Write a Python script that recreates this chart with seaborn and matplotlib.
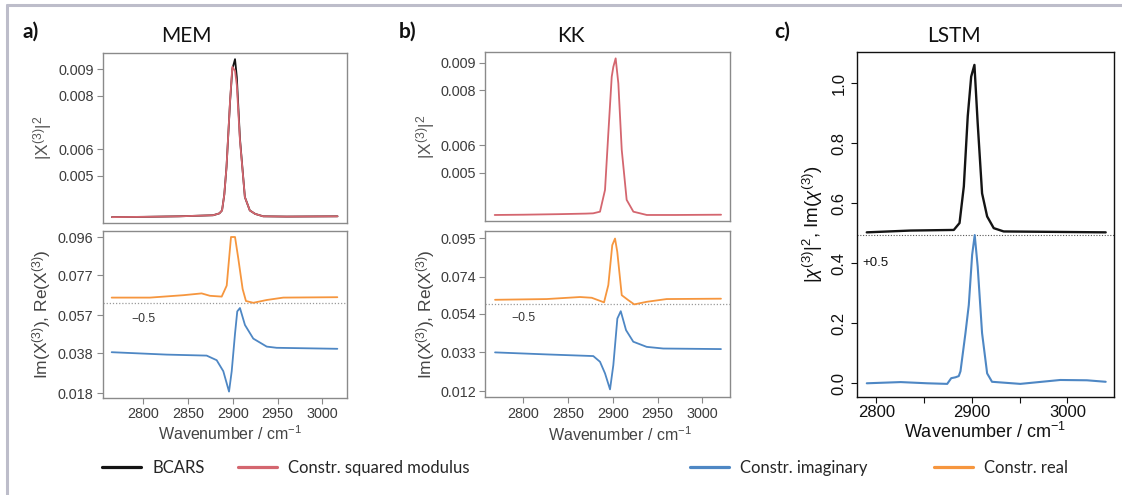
import numpy as np
import pandas as pd
import matplotlib
matplotlib.use("Agg")
import matplotlib.pyplot as plt
from matplotlib.lines import Line2D
import seaborn as sns

# ---------------- data ----------------
# a) MEM - squared modulus panel
mem_top_wn = [2765, 2800, 2840, 2878, 2885, 2888, 2890.5, 2893, 2897, 2899.5, 2902.5,
              2904.5, 2908, 2913.5, 2919, 2925, 2934, 2960, 3017]
mem_bcars = [0.00346, 0.00347, 0.00349, 0.00353, 0.00360, 0.00371, 0.00430, 0.00534, 0.00780,
             0.00900, 0.00937, 0.00870, 0.00640, 0.00421, 0.00371, 0.00358, 0.00349, 0.00348, 0.00349]
mem_mod = [0.00346, 0.00347, 0.00349, 0.00353, 0.00360, 0.00371, 0.00430, 0.00534, 0.00784,
           0.00908, 0.00893, 0.00840, 0.00634, 0.00421, 0.00371, 0.00358, 0.00349, 0.00348, 0.00349]

# a) MEM - real / imaginary panel
mem_re_wn = [2764.7, 2807.5, 2844.7, 2865.2, 2874.5, 2887.6, 2893.2, 2898, 2902.5, 2906.1,
             2911, 2914.7, 2922.9, 2937.9, 2956.4, 3016.8]
mem_re = [0.0658, 0.0658, 0.0670, 0.0679, 0.0667, 0.0663, 0.0718, 0.0961, 0.0961, 0.0855,
          0.0701, 0.0641, 0.0632, 0.0646, 0.0658, 0.0660]
mem_im_wn = [2764.7, 2826, 2870.8, 2882, 2889.4, 2895.8, 2898.8, 2902.5, 2905, 2908,
             2913.6, 2922.9, 2937.9, 2949, 3016.8]
mem_im = [0.0385, 0.0373, 0.0368, 0.0345, 0.0290, 0.0188, 0.0290, 0.0478, 0.0589, 0.0606,
          0.0521, 0.0453, 0.0413, 0.0407, 0.0402]
mem_offset_level = 0.0632

# b) KK - squared modulus panel
kk_top_wn = [2768, 2800, 2840, 2870, 2878, 2885.7, 2891.3, 2895, 2898.8, 2900.6, 2903.2,
             2906.2, 2910, 2915.5, 2923, 2938, 2970, 3021]
kk_mod = [0.00346, 0.00347, 0.00349, 0.00351, 0.00352, 0.00358, 0.00437, 0.00643, 0.00849,
          0.00885, 0.00916, 0.00825, 0.00583, 0.00401, 0.00358, 0.00346, 0.00346, 0.00347]

# b) KK - real / imaginary panel
kk_re_wn = [2768.4, 2826.1, 2863.4, 2876.4, 2890.2, 2895, 2899.4, 2902.5, 2905, 2910,
            2917.3, 2924, 2937.9, 2960.2, 3020.9]
kk_re = [0.0616, 0.0620, 0.0631, 0.0627, 0.0602, 0.0696, 0.0913, 0.0949, 0.0877, 0.0641,
         0.0614, 0.0591, 0.0605, 0.0620, 0.0622]
kk_im_wn = [2768.4, 2826, 2878.2, 2885.7, 2891.3, 2896.9, 2900.6, 2905.1, 2908.9, 2914.8,
            2922.9, 2937.9, 2956.4, 3020.9]
kk_im = [0.0330, 0.0319, 0.0310, 0.0279, 0.0216, 0.0129, 0.0261, 0.0514, 0.0554, 0.0451,
         0.0388, 0.0360, 0.0351, 0.0348]
kk_offset_level = 0.0591

# c) LSTM
lstm_mod_wn = [2789.9, 2835.8, 2881, 2887, 2891.5, 2895.6, 2899.2, 2902.6, 2906, 2910.6,
               2915.9, 2922.8, 2933.2, 3040]
lstm_mod = [0.503, 0.509, 0.511, 0.534, 0.656, 0.890, 1.022, 1.061, 0.867, 0.633,
            0.556, 0.517, 0.506, 0.503]
lstm_im_wn = [2789.9, 2825.4, 2853.2, 2874.1, 2878.3, 2882.8, 2886.2, 2888, 2893.2, 2896.7,
              2900.2, 2902.9, 2906, 2910.6, 2915.9, 2921, 2950.6, 2992.4, 3020.3, 3040]
lstm_im = [0.0, 0.004, 0.0, -0.002, 0.017, 0.020, 0.024, 0.040, 0.167, 0.261,
           0.428, 0.494, 0.389, 0.167, 0.033, 0.005, -0.002, 0.011, 0.010, 0.005]
lstm_offset_level = 0.494

mem_top_ticks = [0.005, 0.006, 0.008, 0.009]
mem_bot_ticks = [0.018, 0.038, 0.057, 0.077, 0.096]
kk_top_ticks = [0.005, 0.006, 0.008, 0.009]
kk_bot_ticks = [0.012, 0.033, 0.054, 0.074, 0.095]
ab_xticks = [2800, 2850, 2900, 2950, 3000]
c_yticks = [0.0, 0.2, 0.4, 0.6, 0.8, 1.0]
c_xticks = [2800, 2850, 2900, 2950, 3000]
c_xticklabels = ["2800", "", "2900", "", "3000"]

titles = ["MEM", "KK", "LSTM"]
panel_tags = ["a)", "b)", "c)"]
legend_labels = ["BCARS", "Constr. squared modulus", "Constr. imaginary", "Constr. real"]

# ---------------- style ----------------
sns.set_theme(style="ticks")
plt.rcParams["font.family"] = ["Liberation Sans", "DejaVu Sans"]
plt.rcParams["mathtext.fontset"] = "custom"
plt.rcParams["mathtext.rm"] = "Liberation Sans"
plt.rcParams["mathtext.it"] = "Liberation Sans:italic"
plt.rcParams["mathtext.bf"] = "Liberation Sans:bold"

C_BLACK = "#141414"
C_RED = "#d4666f"
C_BLUE = "#4e87c4"
C_ORANGE = "#f6963e"
GREY_SPINE = "#8a8a8a"
GREY_TEXT = "#3c3c3c"

W, H = 1122, 495
fig = plt.figure(figsize=(W / 100, H / 100), dpi=100)
fig.patch.set_facecolor("white")


def px_axes(left, top, right, bottom):
    return fig.add_axes([left / W, 1 - bottom / H, (right - left) / W, (bottom - top) / H])


def line(ax, x, y, color, lw=1.3, label=None):
    df = pd.DataFrame({"wn": x, "val": y})
    sns.lineplot(data=df, x="wn", y="val", ax=ax, color=color, lw=lw,
                 estimator=None, sort=False, legend=False, label=label)
    return ax.get_lines()[-1]


def style_ab(ax, show_x):
    for s in ax.spines.values():
        s.set_color(GREY_SPINE)
        s.set_linewidth(1.0)
    ax.tick_params(axis="both", direction="out", length=4.3, width=0.8,
                   color=GREY_SPINE, labelcolor=GREY_TEXT, labelsize=10.4, pad=2.5)
    if not show_x:
        ax.set_xticks([])
    ax.set_xlabel("")
    ax.set_ylabel("")


handles = {}

# ----- panel a -----
ax_a1 = px_axes(103, 53, 347, 223)
handles["BCARS"] = line(ax_a1, mem_top_wn, mem_bcars, C_BLACK, lw=1.3)
handles["mod"] = line(ax_a1, mem_top_wn, mem_mod, C_RED, lw=1.3)
ax_a1.set_xlim(2755, 3027.6)
ax_a1.set_ylim(0.00324, 0.0096)
ax_a1.set_yticks(mem_top_ticks)
ax_a1.set_yticklabels([f"{t:.3f}" for t in mem_top_ticks])
style_ab(ax_a1, False)
ax_a1.set_ylabel(r"|X$^{(3)}$|$^{2}$", fontsize=12.5, color="#555555", va="center")
ax_a1.yaxis.set_label_coords((42.5 - 103) / 244, 0.5)

ax_a2 = px_axes(103, 231, 347, 398)
ax_a2.axhline(mem_offset_level, color="#9a9a9a", lw=0.9, ls=(0, (1, 1.5)))
handles["re"] = line(ax_a2, mem_re_wn, mem_re, C_ORANGE, lw=1.3)
handles["im"] = line(ax_a2, mem_im_wn, mem_im, C_BLUE, lw=1.3)
ax_a2.set_xlim(2755, 3027.6)
ax_a2.set_ylim(0.0156, 0.0991)
ax_a2.set_yticks(mem_bot_ticks)
ax_a2.set_yticklabels([f"{t:.3f}" for t in mem_bot_ticks])
ax_a2.set_xticks(ab_xticks)
style_ab(ax_a2, True)
ax_a2.set_ylabel(r"Im(X$^{(3)}$), Re(X$^{(3)}$)", fontsize=12.5, color="#444444", va="center")
ax_a2.yaxis.set_label_coords((41.5 - 103) / 244, 0.5)
ax_a2.set_xlabel(r"Wavenumber / cm$^{-1}$", fontsize=11.5, color="#444444", va="center")
ax_a2.xaxis.set_label_coords((230.5 - 103) / 244, -(434 - 398) / 167)
ax_a2.text((143.5 - 103) / 244, 1 - (319 - 231) / 167, "\u22120.5", transform=ax_a2.transAxes,
           ha="center", va="center", fontsize=8.8, color="#333333")

# ----- panel b -----
ax_b1 = px_axes(485.3, 52.3, 730, 221.3)
line(ax_b1, kk_top_wn, kk_mod, C_RED, lw=1.3)
ax_b1.set_xlim(2757.5, 3031)
ax_b1.set_ylim(0.00323, 0.00938)
ax_b1.set_yticks(kk_top_ticks)
ax_b1.set_yticklabels([f"{t:.3f}" for t in kk_top_ticks])
style_ab(ax_b1, False)
ax_b1.set_ylabel(r"|X$^{(3)}$|$^{2}$", fontsize=12.5, color="#555555", va="center")
ax_b1.yaxis.set_label_coords((425.5 - 485.3) / 244.7, 0.5)

ax_b2 = px_axes(485.3, 231, 730, 397.3)
ax_b2.axhline(kk_offset_level, color="#9a9a9a", lw=0.9, ls=(0, (1, 1.5)))
line(ax_b2, kk_re_wn, kk_re, C_ORANGE, lw=1.3)
line(ax_b2, kk_im_wn, kk_im, C_BLUE, lw=1.3)
ax_b2.set_xlim(2757.5, 3031)
ax_b2.set_ylim(0.00858, 0.099)
ax_b2.set_yticks(kk_bot_ticks)
ax_b2.set_yticklabels([f"{t:.3f}" for t in kk_bot_ticks])
ax_b2.set_xticks(ab_xticks)
style_ab(ax_b2, True)
ax_b2.set_ylabel(r"Im(X$^{(3)}$), Re(X$^{(3)}$)", fontsize=12.5, color="#444444", va="center")
ax_b2.yaxis.set_label_coords((425.5 - 485.3) / 244.7, 0.5)
ax_b2.set_xlabel(r"Wavenumber / cm$^{-1}$", fontsize=11.5, color="#444444", va="center")
ax_b2.xaxis.set_label_coords((620 - 485.3) / 244.7, -(435 - 397.3) / 166.3)
ax_b2.text((523.5 - 485.3) / 244.7, 1 - (318 - 231) / 166.3, "\u22120.5", transform=ax_b2.transAxes,
           ha="center", va="center", fontsize=8.8, color="#333333")

# ----- panel c -----
ax_c = px_axes(857.3, 52.3, 1114.3, 396.7)
ax_c.axhline(lstm_offset_level, color="#555555", lw=0.8, ls=(0, (1, 1.5)))
line(ax_c, lstm_mod_wn, lstm_mod, C_BLACK, lw=1.7)
line(ax_c, lstm_im_wn, lstm_im, C_BLUE, lw=1.5)
ax_c.set_xlim(2780, 3049)
ax_c.set_ylim(-0.0447, 1.103)
ax_c.set_yticks(c_yticks)
ax_c.set_yticklabels([f"{t:.1f}" for t in c_yticks], rotation=90, va="center")
ax_c.set_xticks(c_xticks)
ax_c.set_xticklabels(c_xticklabels)
for s in ax_c.spines.values():
    s.set_color("#111111")
    s.set_linewidth(1.0)
ax_c.tick_params(axis="both", direction="out", length=4.3, width=0.8, color="#111111",
                 labelcolor="#111111", labelsize=12)
ax_c.tick_params(axis="x", pad=1.7)
ax_c.tick_params(axis="y", pad=3.3)
ax_c.set_ylabel(r"|$\chi^{(3)}$|$^{2}$, Im($\chi^{(3)}$)", fontsize=13.5, color="#111111", va="center")
ax_c.yaxis.set_label_coords((813 - 857.3) / 257, 0.5)
ax_c.set_xlabel(r"Wavenumber / cm$^{-1}$", fontsize=13, color="#111111", va="center")
ax_c.xaxis.set_label_coords((985 - 857.3) / 257, -(431.5 - 396.7) / 344.4)
ax_c.text((875.5 - 857.3) / 257, 1 - (263 - 52.3) / 344.4, "+0.5", transform=ax_c.transAxes,
          ha="center", va="center", fontsize=9.5, color="#111111")

# ----- titles and panel tags -----
title_x = [186.5, 571, 954]
tag_x = [31, 408, 782.5]
for t, tx in zip(titles, title_x):
    fig.text(tx / W, 1 - 36 / H, t, ha="center", va="center", fontsize=15,
             family=["Lato", "DejaVu Sans"], color="#111111")
for t, tx in zip(panel_tags, tag_x):
    fig.text(tx / W, 1 - 31.5 / H, t, ha="center", va="center", fontsize=15,
             family=["Lato", "DejaVu Sans"], fontweight="bold", color="#111111")

# ----- legends -----
leg_font = {"family": ["Lato", "DejaVu Sans"], "size": 12}
leg1 = fig.legend([handles["BCARS"], handles["mod"]], legend_labels[:2], loc="center",
                  bbox_to_anchor=(285.8 / W, 1 - 468 / H), ncol=2, frameon=False, prop=leg_font,
                  handlelength=2.35, handletextpad=0.65, columnspacing=2.0, borderaxespad=0)
leg2 = fig.legend([handles["im"], handles["re"]], legend_labels[2:], loc="center",
                  bbox_to_anchor=(878.7 / W, 1 - 468 / H), ncol=2, frameon=False, prop=leg_font,
                  handlelength=2.35, handletextpad=0.65, columnspacing=4.0, borderaxespad=0)
for lg in (leg1, leg2):
    for h in lg.legend_handles:
        h.set_linewidth(2.3)

# ----- outer frame (top and left) -----
fig.add_artist(Line2D([6.5 / W, 1], [1 - 5 / H, 1 - 5 / H], transform=fig.transFigure,
                      color="#bdbdca", lw=2.2))
fig.add_artist(Line2D([6.5 / W, 6.5 / W], [0, 1 - 5 / H], transform=fig.transFigure,
                      color="#bdbdca", lw=2.2))

fig.savefig("out.png", dpi=100, facecolor="white")
